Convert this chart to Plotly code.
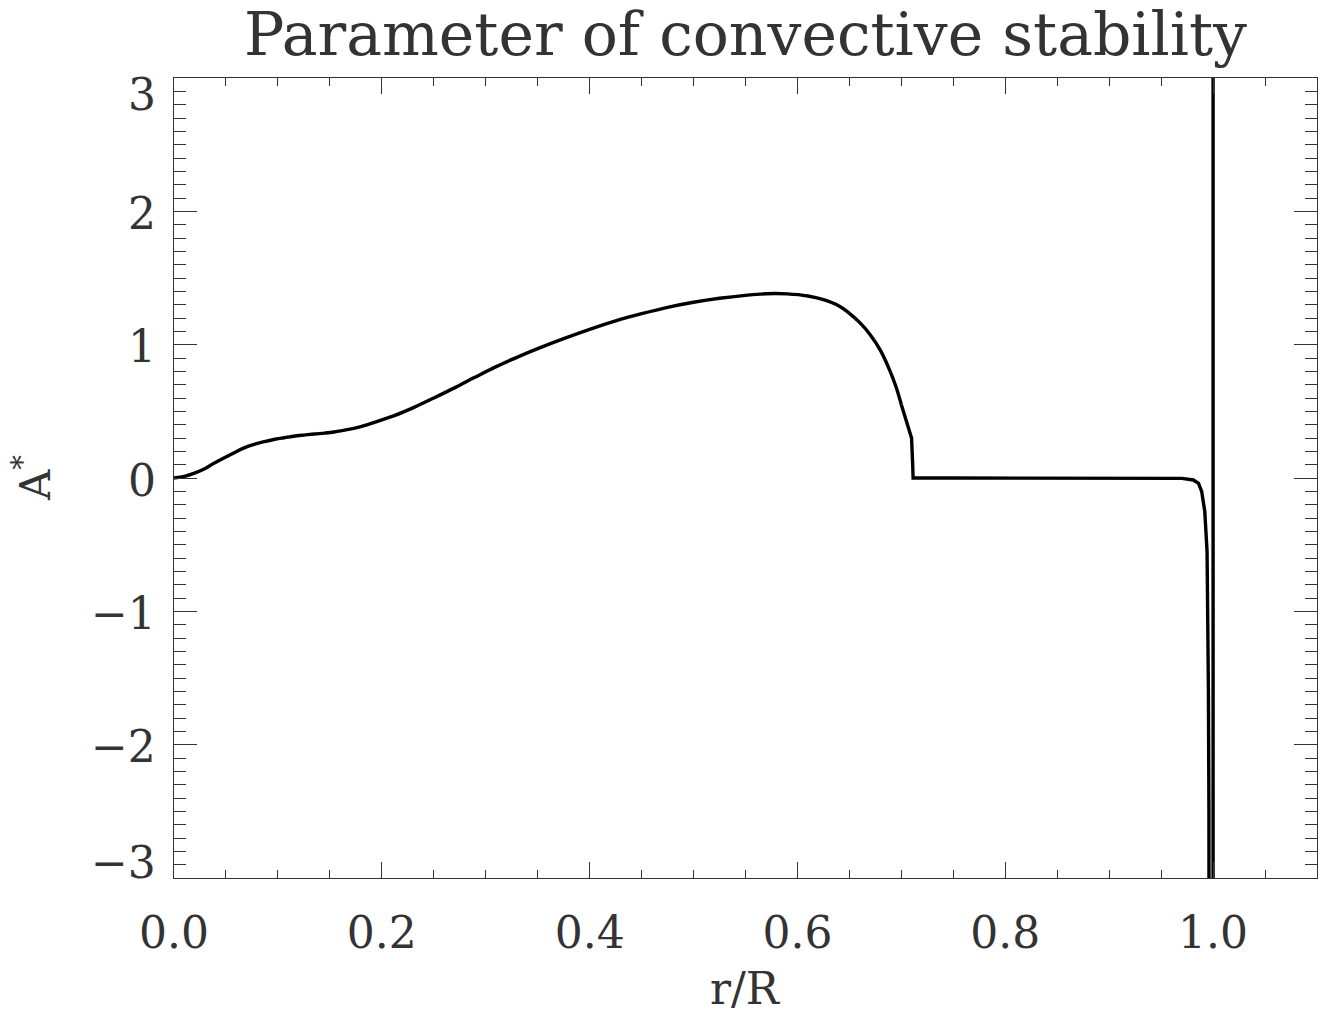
import plotly.graph_objects as go

# ---- data ----
r_vals = [0.0, 0.010, 0.019, 0.029, 0.038, 0.048, 0.058, 0.067, 0.077, 0.087,
          0.096, 0.106, 0.115, 0.125, 0.135, 0.145, 0.154, 0.163, 0.173, 0.183,
          0.192, 0.212, 0.231, 0.250, 0.270, 0.289, 0.308, 0.33, 0.35, 0.375,
          0.40, 0.425, 0.45, 0.475, 0.50, 0.525, 0.55, 0.57, 0.59, 0.61,
          0.625, 0.64, 0.65, 0.66, 0.67, 0.68, 0.69, 0.695, 0.70, 0.705,
          0.708, 0.7098, 0.7108, 0.7113, 0.75, 0.80, 0.85, 0.90, 0.94, 0.958,
          0.97, 0.981, 0.986, 0.989, 0.992, 0.9942, 0.995, 0.9955, 0.996, 0.9963,
          0.997, 0.999, 1.0, 1.0]
a_vals = [0.0, 0.012, 0.035, 0.068, 0.108, 0.150, 0.190, 0.224, 0.252, 0.273,
          0.289, 0.302, 0.313, 0.322, 0.330, 0.337, 0.345, 0.357, 0.372, 0.392,
          0.415, 0.468, 0.530, 0.600, 0.676, 0.753, 0.828, 0.905, 0.970, 1.045,
          1.115, 1.178, 1.232, 1.280, 1.318, 1.348, 1.370, 1.382, 1.381, 1.365,
          1.337, 1.29, 1.235, 1.165, 1.075, 0.955, 0.785, 0.68, 0.55, 0.42,
          0.33, 0.30, 0.12, 0.0, 0.0, 0.0, 0.0, 0.0, 0.0, 0.0,
          -0.003, -0.015, -0.04, -0.1, -0.25, -0.55, -1.0, -1.6, -2.5, -3.2,
          -5.0, -30.0, -30.0, 30.0]

x_tickvals = [0.0, 0.2, 0.4, 0.6, 0.8, 1.0]
x_ticktext = ["0.0", "0.2", "0.4", "0.6", "0.8", "1.0"]
y_tickvals = [-3, -2, -1, 0, 1, 2, 3]
y_ticktext = ["\u22123", "\u22122", "\u22121", "0", "1", "2", "3"]

title_text = "Parameter of convective stability"
x_title = "r/R"
y_title = "A<sup>*</sup>"

FONT = "DejaVu Serif"
TXT = "#333333"
AX = "#333333"

# smooth part (spline) up to the steep drop, straight segments after it
split = r_vals.index(0.70) + 1
fig = go.Figure()
fig.add_trace(go.Scatter(x=r_vals[:split], y=a_vals[:split], mode="lines",
                         line=dict(color="black", width=3.4, shape="spline",
                                   smoothing=1.0),
                         showlegend=False, hoverinfo="skip"))
fig.add_trace(go.Scatter(x=r_vals[split - 1:], y=a_vals[split - 1:], mode="lines",
                         line=dict(color="black", width=3.4),
                         showlegend=False, hoverinfo="skip"))

fig.update_layout(
    width=1321, height=1017,
    margin=dict(l=174, r=4, t=78, b=139),
    paper_bgcolor="white", plot_bgcolor="white",
    title=dict(text=title_text, x=0.5, xref="paper", xanchor="center",
               y=1 - 34 / 1017, yref="container", yanchor="middle",
               font=dict(family=FONT, size=60, color=TXT)),
)

fig.update_xaxes(range=[0, 1.1], showgrid=False, zeroline=False,
                 showline=True, linecolor=AX, linewidth=1, mirror="allticks",
                 ticks="inside", ticklen=16, tickwidth=1, tickcolor=AX,
                 tickvals=x_tickvals, ticktext=x_ticktext,
                 tickfont=dict(family=FONT, size=44, color=TXT),
                 ticklabelstandoff=16,
                 minor=dict(ticks="inside", dtick=0.05, tick0=0, ticklen=8,
                            tickwidth=1, tickcolor=AX, showgrid=False))
fig.update_yaxes(range=[-3, 3], showgrid=False, zeroline=False,
                 showline=True, linecolor=AX, linewidth=1, mirror="allticks",
                 ticks="inside", ticklen=23, tickwidth=1, tickcolor=AX,
                 tickvals=y_tickvals, showticklabels=False,
                 minor=dict(ticks="inside", dtick=0.1, tick0=0, ticklen=12,
                            tickwidth=1, tickcolor=AX, showgrid=False))

# y tick labels (end labels are nudged inward as in the reference)
for v, t in zip(y_tickvals, y_ticktext):
    shift = -16 if v == y_tickvals[-1] else (16 if v == y_tickvals[0] else -2)
    fig.add_annotation(x=0, xref="paper", xanchor="right", xshift=-16,
                       y=v, yref="y", yanchor="middle", yshift=shift,
                       text=t, showarrow=False,
                       font=dict(family=FONT, size=44, color=TXT))

fig.add_annotation(x=0.5, xref="paper", xanchor="center",
                   y=0, yref="paper", yanchor="middle", yshift=-110,
                   text=x_title, showarrow=False,
                   font=dict(family=FONT, size=44, color=TXT))
fig.add_annotation(x=0, xref="paper", xanchor="center", xshift=-142,
                   y=0.5, yref="paper", yanchor="middle",
                   text=y_title, textangle=-90, showarrow=False,
                   font=dict(family=FONT, size=42, color=TXT))

fig.write_html("out.html")
